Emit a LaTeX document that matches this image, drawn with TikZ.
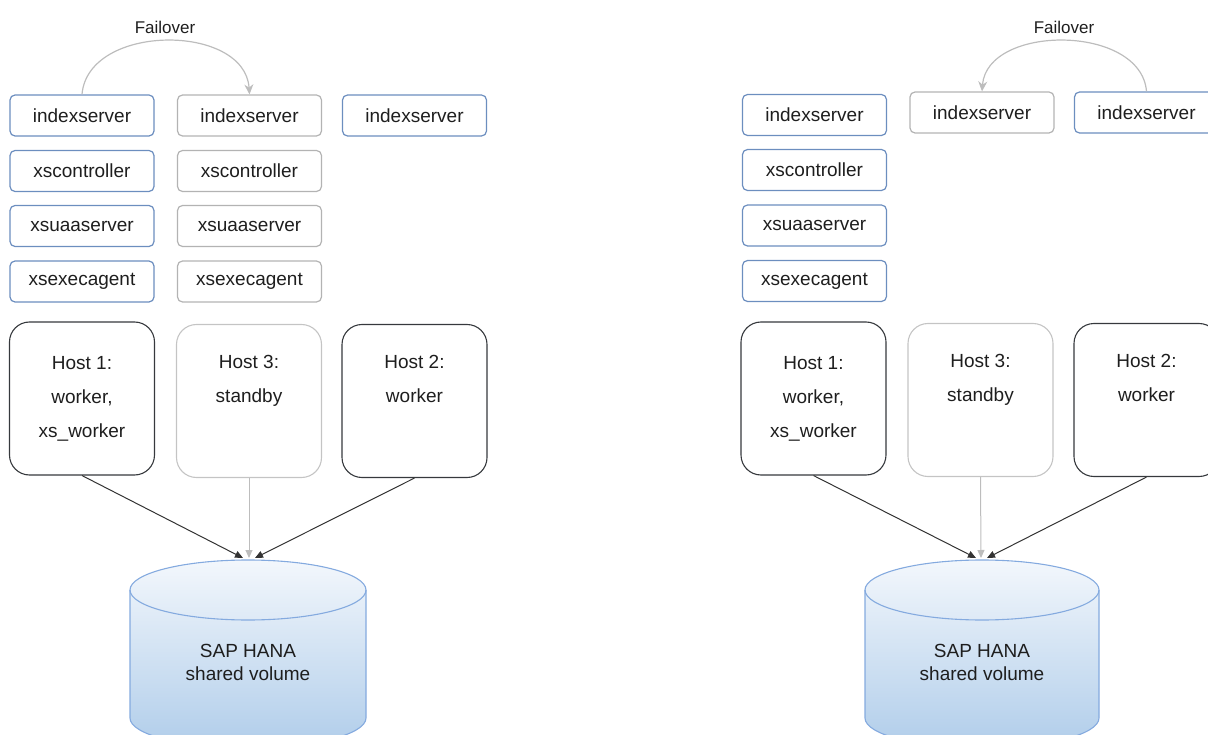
\documentclass[tikz,border=0pt]{standalone}
\usepackage{fontspec}
\setmainfont{Liberation Sans}
\usetikzlibrary{arrows.meta,calc}
\definecolor{blueedge}{HTML}{6C8EBF}
\definecolor{grayedge}{HTML}{B3B3B3}
\definecolor{hostedge}{HTML}{36393D}
\definecolor{hostgray}{HTML}{C4C4C4}
\definecolor{cyltop}{HTML}{F3F7FC}
\definecolor{cylbot}{HTML}{B0CDEA}
\definecolor{cylline}{HTML}{84AADF}
\definecolor{linkdark}{HTML}{333333}
\definecolor{failgray}{HTML}{BDBDBD}
\definecolor{txt}{HTML}{1E1E1E}
\begin{document}
\begin{tikzpicture}[x=1pt,y=-1pt,
  every node/.style={text=txt},
  svc/.style={draw=blueedge, line width=1.2pt, rounded corners=5pt, minimum width=144pt, minimum height=41pt, inner sep=0pt, font=\fontsize{19}{22}\selectfont},
  svcg/.style={svc, draw=grayedge},
  host/.style={draw=hostedge, line width=1.1pt, rounded corners=20pt, minimum width=145pt, minimum height=153pt, align=center, inner sep=0pt, font=\fontsize{19}{34}\selectfont},
  hostg/.style={host, draw=hostgray},
  link/.style={draw=linkdark, line width=1pt, -{Triangle[length=8pt,width=7pt]}},
  linkg/.style={draw=failgray, line width=1pt, -{Triangle[length=8pt,width=7pt]}},
  fail/.style={draw=failgray, line width=1.2pt, -{Stealth[length=10pt,width=9pt]}},
  cylshape/.style={top color=cyltop, bottom color=cylbot, draw=cylline, line width=1.1pt},
  cyltext/.style={font=\fontsize{19}{23}\selectfont, align=center, inner sep=0pt},
  lbl/.style={font=\fontsize{17}{20}\selectfont, inner sep=0pt}
]
\useasboundingbox (0,0) rectangle (1208,735);
\clip (0,0) rectangle (1208,735);

% ---------------- left panel ----------------
\node[lbl] (lfail) at (165,27) {Failover};
\node[svc]  (lix1) at (82,115.5) {indexserver};
\node[svc]  (lxc1) at (82,171) {xscontroller};
\node[svc]  (lxu1) at (82,226) {xsuaaserver};
\node[svc]  (lxe1) at (82,281.5) {xsexecagent};
\node[svcg] (lix2) at (249.5,115.5) {indexserver};
\node[svcg] (lxc2) at (249.5,171) {xscontroller};
\node[svcg] (lxu2) at (249.5,226) {xsuaaserver};
\node[svcg] (lxe2) at (249.5,281.5) {xsexecagent};
\node[svc]  (lix3) at (414.5,115.5) {indexserver};

\node[host]  (lh1) at (82,398.5) {Host 1:\\worker,\\xs\_worker};
\node[hostg] (lh3) at (249,401) {Host 3:\\standby\\\strut};
\node[host]  (lh2) at (414.5,401) {Host 2:\\worker\\\strut};

\path[cylshape] (130,590) -- (130,718) arc[start angle=180, end angle=0, x radius=118, y radius=30]
  -- (366,590) arc[start angle=0, end angle=-180, x radius=118, y radius=30] -- cycle;
\draw[cylline, line width=1.1pt] (130,590) arc[start angle=180, end angle=0, x radius=118, y radius=30];
\node[cyltext] (ldb) at (248,662) {SAP HANA\\shared volume};
\coordinate (ldba) at (243,558);
\coordinate (ldbb) at (249,558);
\coordinate (ldbc) at (255,558);

\draw[fail] (lix1.north) .. controls (88,23) and (245,23) .. (lix2.north);
\draw[linkg] (lh3.south) -- (ldbb);
\draw[link] (lh1.south) -- (ldba);
\draw[link] (lh2.south) -- (ldbc);

% ---------------- right panel ----------------
\node[lbl] (rfail) at (1064,27) {Failover};
\node[svc]  (rix1) at (814.5,115) {indexserver};
\node[svc]  (rxc1) at (814.5,170) {xscontroller};
\node[svc]  (rxu1) at (814.5,225.5) {xsuaaserver};
\node[svc]  (rxe1) at (814.5,281) {xsexecagent};
\node[svcg] (rix2) at (982,112.5) {indexserver};
\node[svc]  (rix3) at (1146.5,112.5) {indexserver};

\node[host]  (rh1) at (813.5,398.5) {Host 1:\\worker,\\xs\_worker};
\node[hostg] (rh3) at (980.5,400) {Host 3:\\standby\\\strut};
\node[host]  (rh2) at (1146.5,400) {Host 2:\\worker\\\strut};

\path[cylshape] (865,590) -- (865,718) arc[start angle=180, end angle=0, x radius=117, y radius=30]
  -- (1099,590) arc[start angle=0, end angle=-180, x radius=117, y radius=30] -- cycle;
\draw[cylline, line width=1.1pt] (865,590) arc[start angle=180, end angle=0, x radius=117, y radius=30];
\node[cyltext] (rdb) at (982,662) {SAP HANA\\shared volume};
\coordinate (rdba) at (976,558);
\coordinate (rdbb) at (981,558);
\coordinate (rdbc) at (987,558);

\draw[fail] (rix3.north) .. controls (1141,24) and (987,24) .. (rix2.north);
\draw[linkg] (rh3.south) -- (rdbb);
\draw[link] (rh1.south) -- (rdba);
\draw[link] (rh2.south) -- (rdbc);
\end{tikzpicture}
\end{document}
